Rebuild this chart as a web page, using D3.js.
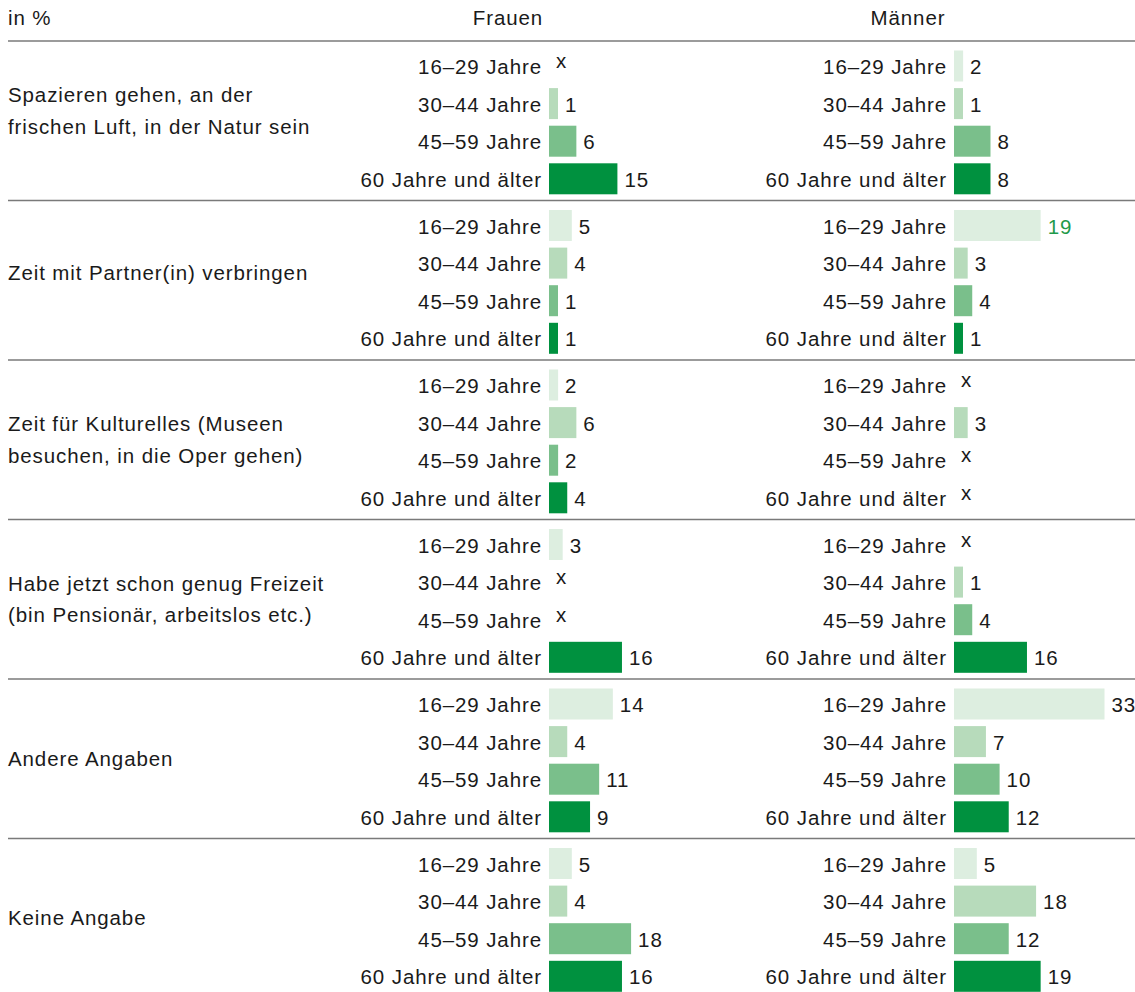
<!DOCTYPE html>
<html>
<head>
<meta charset="utf-8">
<script src="https://cdn.jsdelivr.net/npm/d3@7"></script>
<style>
  html, body { margin: 0; padding: 0; background: #fff; }
  svg { display: block; }
  text { font-family: "Liberation Sans", Arial, sans-serif; font-size: 20.5px; fill: #1a1a1a; letter-spacing: 0.9px; }
</style>
</head>
<body>
<div id="chart"></div>
<script>
// Freizeitwünsche nach Geschlecht und Altersgruppe, in %
const categories = [
  ["Spazieren gehen, an der", "frischen Luft, in der Natur sein"],
  ["Zeit mit Partner(in) verbringen"],
  ["Zeit für Kulturelles (Museen", "besuchen, in die Oper gehen)"],
  ["Habe jetzt schon genug Freizeit", "(bin Pensionär, arbeitslos etc.)"],
  ["Andere Angaben"],
  ["Keine Angabe"]
];
const ageGroups = ["16–29 Jahre", "30–44 Jahre", "45–59 Jahre", "60 Jahre und älter"];
const groups = ["Frauen", "Männer"];

// null = zu geringe Fallzahl (x)
const frauen = [
  [null, 1, 6, 15],
  [5, 4, 1, 1],
  [2, 6, 2, 4],
  [3, null, null, 16],
  [14, 4, 11, 9],
  [5, 4, 18, 16]
];
const maenner = [
  [2, 1, 8, 8],
  [19, 3, 4, 1],
  [null, 3, null, null],
  [null, 1, 4, 16],
  [33, 7, 10, 12],
  [5, 18, 12, 19]
];
// hervorgehobener Wert (Männer, 16–29 Jahre, Zeit mit Partner(in))
const highlightMaenner = [[1, 0]];

const ageColors = ["#ddeee0", "#b7dbbb", "#7abf8b", "#00913f"];
const highlightColor = "#1f9a4a";

const W = 1135, H = 992;
const svg = d3.select("#chart").append("svg").attr("width", W).attr("height", H);

const headerY = 41;
const sectionH = 159.5;
const rowStep = 37.6;
const firstRow = 25;
const barH = 31;
const panels = [
  { name: groups[0], data: frauen, barX: 549, centerX: 508, hl: [] },
  { name: groups[1], data: maenner, barX: 954, centerX: 908, hl: highlightMaenner }
];

const x = d3.scaleLinear().domain([0, 33]).range([0, 150.5]);
const barWidth = v => Math.max(9, x(v));

// header
svg.append("text").attr("x", 8).attr("y", 25).text("in %");
panels.forEach(p => {
  svg.append("text").attr("x", p.centerX).attr("y", 25)
    .attr("text-anchor", "middle").text(p.name);
});

const y = d3.scaleLinear().domain([0, categories.length]).range([headerY, headerY + sectionH * categories.length]);

// separator lines
svg.append("g").selectAll("line")
  .data(d3.range(categories.length))
  .join("line")
  .attr("x1", 8).attr("x2", W)
  .attr("y1", i => y(i)).attr("y2", i => y(i))
  .attr("stroke", "#7a7a7a").attr("stroke-width", 1.6);

// category labels
const labelOffset = [-10, -7, 0, 0, 0, 0];
categories.forEach((lines, i) => {
  const mid = (y(i) + y(i + 1)) / 2 + labelOffset[i];
  const lh = 31.5;
  const top = mid - (lines.length - 1) * lh / 2;
  lines.forEach((l, k) => {
    svg.append("text").attr("x", 8).attr("y", top + k * lh + 7).text(l);
  });
});

// bars per panel
panels.forEach(p => {
  categories.forEach((c, i) => {
    const g = svg.append("g");
    p.data[i].forEach((v, j) => {
      const cy = y(i) + firstRow + j * rowStep;
      g.append("text")
        .attr("x", p.barX - 7).attr("y", cy + 8)
        .attr("text-anchor", "end").text(ageGroups[j]);
      if (v === null) {
        g.append("text").attr("x", p.barX + 7).attr("y", cy + 2).text("x");
        return;
      }
      const w = barWidth(v);
      g.append("rect")
        .attr("x", p.barX).attr("y", cy - barH / 2)
        .attr("width", w).attr("height", barH)
        .attr("fill", ageColors[j]);
      const isHl = p.hl.some(h => h[0] === i && h[1] === j);
      g.append("text")
        .attr("x", p.barX + w + 7).attr("y", cy + 8)
        .style("fill", isHl ? highlightColor : null)
        .text(v);
    });
  });
});
</script>
</body>
</html>
